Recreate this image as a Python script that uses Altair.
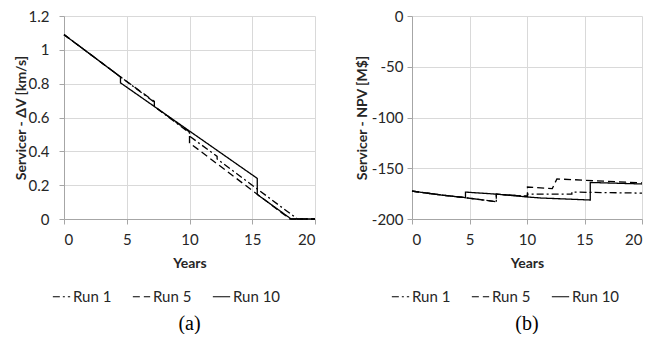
import altair as alt
import pandas as pd

runs = ["Run 1", "Run 5", "Run 10"]

# Panel (a): Servicer delta-V [km/s]
dv_run1_x = [0, 7.2, 7.2, 10.0, 10.0, 12.2, 12.2, 18.6, 20]
dv_run1_y = [1.09, 0.69, 0.665, 0.51, 0.49, 0.37, 0.355, 0.0, 0.0]
dv_run5_x = [0, 4.5, 7.2, 7.2, 10.0, 10.0, 18.0, 20]
dv_run5_y = [1.09, 0.84, 0.695, 0.665, 0.515, 0.45, 0.0, 0.0]
dv_run10_x = [0, 4.5, 4.5, 15.4, 15.4, 18.1, 20]
dv_run10_y = [1.09, 0.84, 0.805, 0.24, 0.145, 0.0, 0.0]

# Panel (b): Servicer NPV [M$]
npv_run1_x = [0, 2.5, 4.65, 7.33, 7.33, 10.04, 10.04, 13.9, 13.9, 20]
npv_run1_y = [-172.5, -176.3, -179, -183, -175.5, -177.5, -175.5, -175.5, -173.5, -174.5]
npv_run5_x = [0, 2.5, 4.65, 7.33, 7.33, 10.04, 10.04, 12.2, 12.6, 20]
npv_run5_y = [-172.5, -176.3, -179, -183, -175.5, -177.8, -168.5, -170, -160.5, -164.5]
npv_run10_x = [0, 2.5, 4.65, 4.65, 7.33, 10.04, 11.2, 15.5, 15.5, 20]
npv_run10_y = [-172.5, -176.3, -179, -173.5, -175.5, -178.3, -179.3, -181.3, -164, -165.5]

x_ticks = [0, 5, 10, 15, 20]
yvals_a = [0, 0.2, 0.4, 0.6, 0.8, 1, 1.2]
yvals_b = [-200, -150, -100, -50, 0]


def frame(series):
    rows = []
    for name, xs, ys in series:
        for i, (x, y) in enumerate(zip(xs, ys)):
            rows.append({"run": name, "idx": i, "x": x, "y": y})
    return pd.DataFrame(rows)


df_a = frame([("Run 1", dv_run1_x, dv_run1_y),
              ("Run 5", dv_run5_x, dv_run5_y),
              ("Run 10", dv_run10_x, dv_run10_y)])
df_b = frame([("Run 1", npv_run1_x, npv_run1_y),
              ("Run 5", npv_run5_x, npv_run5_y),
              ("Run 10", npv_run10_x, npv_run10_y)])

FONT = "Lato"
TXT = "#262626"
dash_scale = alt.Scale(domain=runs, range=[[7, 3, 2, 3], [7, 4], [1, 0]])


def panel(df, ydomain, yvals, ytitle, caption, width, lx, lab_pad, title_pad):
    legend = alt.Legend(
        title=None, orient="none", direction="horizontal", padding=0,
        legendX=lx, legendY=271, symbolType="stroke", symbolStrokeColor="black",
        symbolStrokeWidth=1.2, symbolSize=300, labelFont=FONT, labelFontSize=15,
        labelColor=TXT, columnPadding=18, labelOffset=2,
    )
    return alt.Chart(df).mark_line(color="black", strokeWidth=1.3).encode(
        x=alt.X("x:Q", scale=alt.Scale(domain=[0, 20], nice=False),
                axis=alt.Axis(values=x_ticks, title="Years", labelExpr="'' + datum.value",
                              labelPadding=8, titlePadding=9)),
        y=alt.Y("y:Q", scale=alt.Scale(domain=ydomain, nice=False),
                axis=alt.Axis(values=yvals, title=ytitle, labelExpr="'' + datum.value",
                              labelPadding=lab_pad, titlePadding=title_pad)),
        strokeDash=alt.StrokeDash("run:N", scale=dash_scale, sort=runs, legend=legend),
        order=alt.Order("idx:Q"),
        detail="run:N",
    ).properties(
        width=width, height=203,
        title=alt.Title(caption, orient="bottom", font="Liberation Serif", fontSize=20,
                        fontWeight="normal", color="black", offset=9, anchor="middle"),
    )


left = panel(df_a, [0, 1.2], yvals_a, "Servicer - ΔV [km/s]", "(a)", 251, -12, 10, 0)
right = panel(df_b, [-200, 0], yvals_b, "Servicer - NPV [M$]", "(b)", 230, -21, 4, 2)

chart = alt.hconcat(left, right, spacing=37).resolve_legend(strokeDash="independent").properties(
    padding={"left": 6, "top": 1, "right": 0, "bottom": 0}
).configure_view(
    stroke=None
).configure_axis(
    labelFont=FONT, labelFontSize=15, labelColor=TXT,
    titleFont=FONT, titleFontSize=14, titleFontWeight="bold", titleColor=TXT,
    gridColor="#d9d9d9", gridWidth=1, domainColor="#a6a6a6", tickColor="#a6a6a6",
    tickSize=5,
)

chart.save("out.html", embed_options={"renderer": "svg", "actions": False})
